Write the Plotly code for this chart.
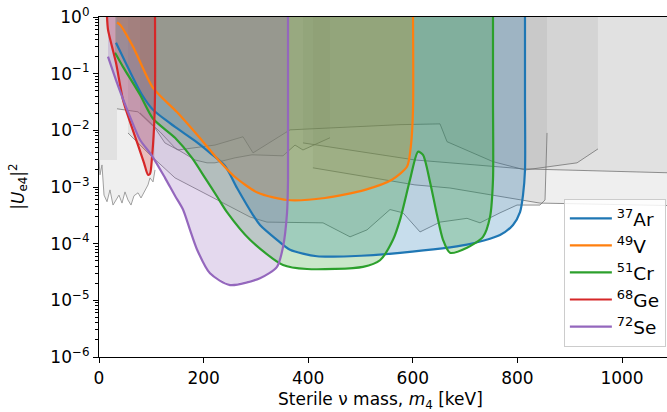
import plotly.graph_objects as go

# ---------------- data (keV, |Ue4|^2) ----------------
ar_x = [32.5, 59.3, 82.2, 103.3, 145.3, 183.6, 212.2, 240.9, 263.9, 294.5, 307.8, 340.3, 365.2, 416.8, 479.9, 575.5, 703.6, 766.7, 791.6, 805, 810.7, 814.5, 814.5, 814.5]
ar_y = [0.35, 0.108, 0.0424, 0.023, 0.0115, 6.5e-3, 4.0e-3, 2.36e-3, 9.6e-4, 3.2e-4, 2.14e-4, 1.17e-4, 7.8e-5, 6.0e-5, 6.0e-5, 6.9e-5, 9.6e-5, 1.42e-4, 2.14e-4, 3.6e-4, 7.2e-4, 2.0e-3, 0.035, 1.0]

v_x = [34.4, 40.2, 65, 103.3, 149, 193, 222, 260, 304, 359.5, 432, 508.6, 560, 589, 596.5, 600.4, 600.4]
v_y = [0.8, 0.73, 0.30, 0.056, 0.021, 7.3e-3, 3.5e-3, 1.5e-3, 7.9e-4, 5.9e-4, 6.4e-4, 8.9e-4, 1.34e-3, 2.3e-3, 5.5e-3, 0.023, 1.0]

cr_x = [30.6, 45.9, 78.4, 103.3, 145.3, 177.8, 202.7, 227.5, 244.7, 288.7, 351.8, 397.7, 504.8, 537.3, 562.1, 575.5, 594.6, 609.9, 619.5, 632.9, 646.3, 657.7, 671.1, 703.6, 734.2, 747.6, 753.3, 753.3, 753.3]
cr_y = [0.234, 0.132, 0.0424, 0.016, 7.4e-3, 3.27e-3, 1.45e-3, 6.4e-4, 3.6e-4, 1.17e-4, 4.2e-5, 3.57e-5, 3.9e-5, 5.1e-5, 1.17e-4, 2.63e-4, 1.34e-3, 4.2e-3, 3.7e-3, 1.23e-3, 3.2e-4, 1.17e-4, 6.9e-5, 8.5e-5, 1.32e-4, 2.95e-4, 1.34e-3, 0.035, 1.0]

ge_x = [15.3, 17.2, 24.9, 32.5, 45.9, 59.3, 74.6, 86, 93.7, 97.5, 101.3, 105.2, 107.1, 107.1]
ge_y = [1.0, 0.60, 0.30, 0.156, 0.0345, 0.0141, 5.5e-3, 2.67e-3, 1.64e-3, 1.7e-3, 3.3e-3, 0.011, 0.042, 1.0]

se_x = [17.2, 34.4, 59.3, 78.4, 101.3, 126.2, 145.3, 160.6, 174, 187.4, 212.2, 250.5, 307.8, 340.3, 351.8, 359.5, 361.4, 361.4]
se_y = [0.20, 0.069, 0.0173, 6.8e-3, 3.55e-3, 1.45e-3, 7.0e-4, 4.0e-4, 1.75e-4, 7.9e-5, 3.0e-5, 1.86e-5, 2.46e-5, 3.9e-5, 8.7e-5, 3.5e-4, 1.34e-3, 1.0]

# existing limits (grey)
noisy_x = [0, 1.9, 5.7, 9.6, 15.3, 21, 26.8, 32.5, 38.2, 44, 49.7, 55.4, 61.2, 66.9, 74.6, 80.3, 88, 93.7, 97.5, 103.3, 107.1]
noisy_y = [3.0e-3, 1.64e-3, 2.45e-3, 7.2e-4, 5.5e-4, 8.9e-4, 4.8e-4, 5.9e-4, 7.2e-4, 5.2e-4, 8.2e-4, 5.9e-4, 4.8e-4, 7.0e-4, 7.9e-4, 6.4e-4, 8.9e-4, 1.09e-3, 1.45e-3, 1.23e-3, 2.0e-3]

strip_x = [0, 34.4]
strip_y = [3.0e-3, 3.0e-3]

lim2_x = [34.4, 74.6, 107, 126, 151, 183.6, 221.8, 275.3, 294.5, 365.2, 575.5, 652, 665.4, 753.3, 814.5, 914, 954]
lim2_y = [0.024, 0.0212, 0.011, 6.0e-3, 4.5e-3, 4.9e-3, 5.5e-3, 7.7e-3, 4.0e-3, 0.0102, 0.0126, 0.013, 6.3e-3, 2.8e-3, 2.0e-3, 2.67e-3, 4.7e-3]

jag_x = [78.4, 116.6, 145.3, 183.6, 206.5, 221.8, 260, 292.5, 351.8, 374.8, 390, 407.3, 441.7]
jag_y = [0.0203, 9.4e-3, 4.9e-3, 3.0e-3, 2.67e-3, 2.67e-3, 3.27e-3, 3.7e-3, 3.55e-3, 5.5e-3, 4.5e-3, 5.3e-3, 7.4e-3]

wavy_x = [55.4, 97.5, 145.3, 225.6, 288.7, 321.2, 384.3, 428.3, 480, 512.4, 556.4, 581.3, 613.8, 652, 703.6, 728.5, 766.7, 799.2, 843.2, 852.8, 856.6]
wavy_y = [9.0e-3, 3.7e-3, 1.45e-3, 5.9e-4, 2.96e-4, 2.4e-4, 2.4e-4, 2.33e-4, 1.32e-4, 1.75e-4, 4.0e-4, 3.5e-4, 1.61e-4, 2.4e-4, 2.8e-4, 2.33e-4, 3.5e-4, 4.8e-4, 4.8e-4, 5.9e-4, 9.0e-3]

lim3_x = [390, 604, 671, 810.7, 1090]
lim3_y = [6.0e-3, 3.0e-3, 2.67e-3, 2.09e-3, 1.78e-3]

lim5_x = [409, 604, 671, 843, 1090]
lim5_y = [2.18e-3, 1.09e-3, 9.6e-4, 5.2e-4, 4.7e-4]

isotopes = ["<sup>37</sup>Ar", "<sup>49</sup>V", "<sup>51</sup>Cr", "<sup>68</sup>Ge", "<sup>72</sup>Se"]
colors = ["#1f77b4", "#ff7f0e", "#2ca02c", "#d62728", "#9467bd"]
fills = ["rgba(31,119,180,0.25)", "rgba(255,127,14,0.25)", "rgba(44,160,44,0.25)",
         "rgba(214,39,40,0.25)", "rgba(148,103,189,0.25)"]

ytick_vals = [1e-6, 1e-5, 1e-4, 1e-3, 1e-2, 1e-1, 1]
ytick_text = ["10<sup>\u22126</sup>", "10<sup>\u22125</sup>", "10<sup>\u22124</sup>", "10<sup>\u22123</sup>",
              "10<sup>\u22122</sup>", "10<sup>\u22121</sup>", "10<sup>0</sup>"]
xtick_vals = [0, 200, 400, 600, 800, 1000]

GREY_FILL = "rgba(128,128,128,0.13)"
GREY_LINE = "rgba(110,110,110,0.75)"

fig = go.Figure()


def close_top(xs, ys):
    return list(xs) + [xs[-1], xs[0], xs[0]], list(ys) + [1.0, 1.0, ys[0]]


# grey filled regions
for gx, gy in [(noisy_x, noisy_y), (strip_x, strip_y), (lim2_x, lim2_y), (jag_x, jag_y),
               (wavy_x, wavy_y), (lim3_x, lim3_y), (lim5_x, lim5_y)]:
    px, py = close_top(gx, gy)
    fig.add_trace(go.Scatter(x=px, y=py, mode="lines", fill="toself", fillcolor=GREY_FILL,
                             line=dict(width=0), showlegend=False, hoverinfo="skip"))
# grey boundary lines
for gx, gy, w, c in [(noisy_x, noisy_y, 1, "rgba(150,150,150,0.9)"), (lim2_x, lim2_y, 1, GREY_LINE),
                     (jag_x, jag_y, 1, GREY_LINE), (wavy_x, wavy_y, 1, GREY_LINE),
                     (lim3_x, lim3_y, 1, GREY_LINE), (lim5_x, lim5_y, 1, GREY_LINE)]:
    fig.add_trace(go.Scatter(x=gx, y=gy, mode="lines", line=dict(color=c, width=w),
                             showlegend=False, hoverinfo="skip"))

# coloured sensitivity regions
series = [(ar_x, ar_y), (v_x, v_y), (cr_x, cr_y), (ge_x, ge_y), (se_x, se_y)]
for (sx, sy), fc in zip(series, fills):
    px, py = close_top(sx, sy)
    fig.add_trace(go.Scatter(x=px, y=py, mode="lines", fill="toself", fillcolor=fc,
                             line=dict(width=0), showlegend=False, hoverinfo="skip"))
for (sx, sy), name, col in zip(series, isotopes, colors):
    fig.add_trace(go.Scatter(x=sx, y=sy, mode="lines", name=name,
                             line=dict(color=col, width=2.2, shape="spline", smoothing=0.7)))

minor_vals = [m * 10 ** e for e in range(-6, 0) for m in range(2, 10)]

fig.update_layout(
    width=667, height=412,
    margin=dict(l=99, r=0, t=17, b=55),
    paper_bgcolor="white", plot_bgcolor="white",
    font=dict(family="DejaVu Sans", size=17, color="black"),
    showlegend=True,
    legend=dict(x=0.998, y=0.03, xanchor="right", yanchor="bottom",
                bgcolor="rgba(255,255,255,0.85)", bordercolor="#cccccc", borderwidth=1,
                font=dict(size=18.5), traceorder="normal", tracegroupgap=0, itemwidth=42),
    xaxis=dict(range=[0, 1086], tickvals=xtick_vals, ticks="outside", ticklen=5,
               tickcolor="black", showline=True, linecolor="black", linewidth=1.2,
               mirror=True, showgrid=False, zeroline=False),
    yaxis=dict(type="log", range=[-6, 0], tickvals=ytick_vals, ticktext=ytick_text,
               ticks="outside", ticklen=5, tickcolor="black", showline=True,
               linecolor="black", linewidth=1.2, showgrid=False, zeroline=False,
               minor=dict(tickvals=minor_vals, ticks="outside", ticklen=3, tickcolor="black",
                          showgrid=False)),
    annotations=[
        dict(text="|<i>U</i><sub>e4</sub>|<sup>2</sup>", xref="paper", yref="paper",
             x=-0.143, y=0.5, xanchor="center", yanchor="middle", textangle=-90,
             showarrow=False, font=dict(size=17)),
        dict(text="Sterile \u03bd mass, <i>m</i><sub>4</sub> [keV]", xref="paper", yref="paper",
             x=0.495, y=-0.128, xanchor="center", yanchor="middle",
             showarrow=False, font=dict(size=17)),
    ],
)

fig.write_html("out.html", config={"displayModeBar": False},
               post_script="document.body.style.margin='0';")
